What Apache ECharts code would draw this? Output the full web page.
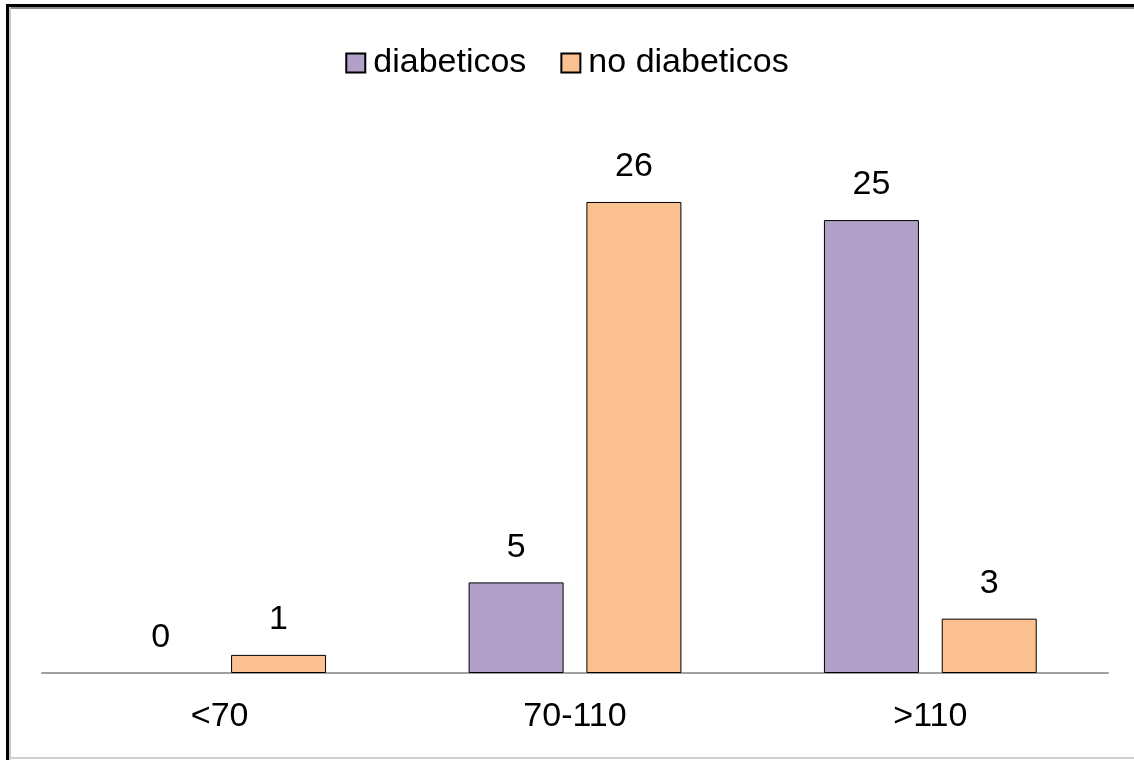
<!DOCTYPE html>
<html>
<head>
<meta charset="utf-8">
<script src="https://cdn.jsdelivr.net/npm/echarts@6/dist/echarts.min.js"></script>
<style>
  html, body { margin: 0; padding: 0; background: #fff; }
  #main { width: 1134px; height: 760px; }
</style>
</head>
<body>
<div id="main"></div>
<script>
// categorias de glucemia
var categories = ['<70', '70-110', '>110'];
var diabeticos = [0, 5, 25];
var noDiabeticos = [1, 26, 3];

var myChart = echarts.init(document.getElementById('main'));

var labelStyle = {
  show: true,
  position: 'top',
  distance: 18,
  fontSize: 34,
  color: '#000',
  fontFamily: 'Liberation Sans'
};

// barras en cero sin borde
function toItems(arr) {
  return arr.map(function (v) {
    return v === 0 ? { value: v, itemStyle: { borderWidth: 0 } } : v;
  });
}

myChart.setOption({
  animation: false,
  textStyle: { fontFamily: 'Liberation Sans' },
  // marco de la imagen
  graphic: [
    { type: 'rect', shape: { x: 6, y: 4, width: 3, height: 756 }, style: { fill: '#000' } },
    { type: 'rect', shape: { x: 6, y: 4, width: 1128, height: 3 }, style: { fill: '#000' } },
    { type: 'rect', shape: { x: 9, y: 7, width: 1125, height: 2 }, style: { fill: '#8a8a8a' } },
    { type: 'rect', shape: { x: 9, y: 7, width: 2, height: 753 }, style: { fill: '#c8c8c8' } },
    { type: 'rect', shape: { x: 9, y: 757, width: 1125, height: 2 }, style: { fill: '#d0d0d0' } }
  ],
  legend: {
    top: 41,
    left: 'center',
    itemWidth: 19,
    itemHeight: 19,
    itemGap: 34,
    textStyle: { fontSize: 34, color: '#000', padding: [0, 0, 0, 3] },
    data: [
      { name: 'diabeticos', icon: 'rect' },
      { name: 'no diabeticos', icon: 'rect' }
    ]
  },
  grid: { left: 42, right: 26, top: 129.5, bottom: 87 },
  xAxis: {
    type: 'category',
    data: categories,
    axisLine: { lineStyle: { color: '#a0a0a0', width: 2 } },
    axisTick: { show: false },
    axisLabel: { fontSize: 34, color: '#000', margin: 27 }
  },
  yAxis: {
    type: 'value',
    min: 0,
    max: 30,
    show: false,
    splitLine: { show: false }
  },
  series: [
    {
      name: 'diabeticos',
      type: 'bar',
      data: toItems(diabeticos),
      barWidth: 95,
      barGap: '24%',
      itemStyle: { color: '#b1a0c7', borderColor: '#000', borderWidth: 1 },
      label: labelStyle
    },
    {
      name: 'no diabeticos',
      type: 'bar',
      data: toItems(noDiabeticos),
      barWidth: 95,
      barGap: '24%',
      itemStyle: { color: '#fac090', borderColor: '#000', borderWidth: 1 },
      label: labelStyle
    }
  ]
});
</script>
</body>
</html>
